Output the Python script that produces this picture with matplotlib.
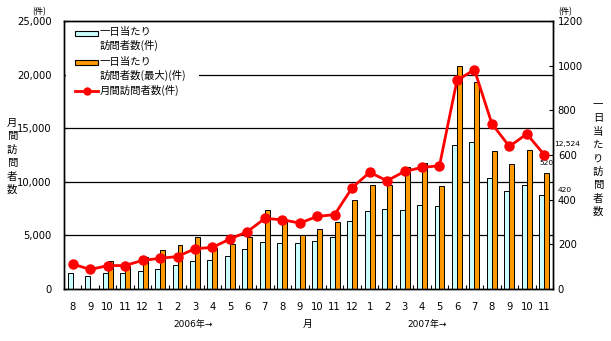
import matplotlib
matplotlib.use("Agg")
import matplotlib.pyplot as plt
import numpy as np
from matplotlib.patches import Rectangle
from matplotlib.lines import Line2D
from matplotlib.ticker import FuncFormatter, FixedLocator

plt.rcParams['font.family'] = ['DejaVu Sans', 'Noto Sans CJK JP']
CJK = ['Noto Sans CJK JP', 'DejaVu Sans']

# 2005/8 – 2007/11
months = ["8", "9", "10", "11", "12", "1", "2", "3", "4", "5", "6", "7",
          "8", "9", "10", "11", "12", "1", "2", "3", "4", "5", "6", "7",
          "8", "9", "10", "11"]

# 一日当たり訪問者数(件)
daily_avg = [72, 60, 70, 72, 82, 90, 107, 125, 130, 150, 177, 212,
             208, 204, 217, 232, 303, 351, 360, 354, 377, 371, 647, 658,
             497, 441, 464, 420]

# 一日当たり訪問者数(最大)(件)  (no record for the first two months)
daily_max = [np.nan, np.nan, 125, 104, 143, 175, 197, 233, 185, 203, 233, 354,
             298, 242, 270, 300, 398, 466, 466, 545, 564, 461, 1000, 928,
             619, 561, 624, 520]

# 月間訪問者数(件)
monthly = [2330, 1820, 2180, 2190, 2670, 2860, 3030, 3760, 3880, 4660, 5350, 6580,
           6460, 6150, 6770, 6940, 9450, 10880, 10100, 10970, 11340, 11500, 19450, 20460,
           15420, 13300, 14460, 12524]

left_ticks = [0, 5000, 10000, 15000, 20000, 25000]
right_ticks = [0, 200, 400, 600, 800, 1000, 1200]

C_CYAN = "#CCFFFF"
C_ORANGE = "#FF9900"
C_RED = "#FF0000"
FS = 7.5
FS_NUM = 7.2

W, H = 611, 341
fig = plt.figure(figsize=(W / 100, H / 100), dpi=100)


def fx(px):
    return px / W


def fy(py):
    return 1 - py / H


L, R, T, B = 64, 553, 21, 289
ax = fig.add_axes([fx(L), fy(B), (R - L) / W, (B - T) / H])   # bars, right scale
ax2 = ax.twinx()                                              # line, left scale

x = np.arange(len(months))
bw = 0.285

# horizontal grid lines follow the left (monthly) scale
ratio = right_ticks[-1] / left_ticks[-1]
for v in left_ticks[1:-1]:
    ax.axhline(v * ratio, color="black", lw=0.9, zorder=0.5)

ax.bar(x - bw / 2, daily_avg, bw, color=C_CYAN, edgecolor="black", linewidth=0.7, zorder=2)
dm = np.array(daily_max, dtype=float)
ok = ~np.isnan(dm)
ax.bar(x[ok] + bw / 2, dm[ok], bw, color=C_ORANGE, edgecolor="black", linewidth=0.7, zorder=2)

ax2.plot(x, monthly, color=C_RED, lw=2, marker="o", ms=6.5, mec=C_RED, mfc=C_RED, zorder=3)

ax.set_xlim(-0.5, len(months) - 0.5)
ax.set_ylim(0, right_ticks[-1])
ax2.set_ylim(0, left_ticks[-1])

# right scale for bars
ax.yaxis.tick_right()
ax.set_yticks(right_ticks)
ax.set_yticklabels([str(v) for v in right_ticks])
ax.tick_params(axis="y", direction="in", length=3, labelsize=FS_NUM, pad=3.5)

# left scale for the line
ax2.yaxis.tick_left()
ax2.set_yticks(left_ticks)
ax2.yaxis.set_major_formatter(FuncFormatter(lambda v, p: f"{int(v):,}"))
ax2.tick_params(axis="y", direction="in", length=3, labelsize=FS_NUM, pad=9)

# category axis
ax.set_xticks(x)
ax.set_xticklabels(months)
ax.tick_params(axis="x", length=0, labelsize=FS_NUM, pad=9)
ax.xaxis.set_minor_locator(FixedLocator(np.arange(0.5, len(months) - 1, 1.0)))
ax.tick_params(axis="x", which="minor", direction="in", length=3, width=0.8)

for a in (ax, ax2):
    for s in a.spines.values():
        s.set_linewidth(1.0)
        s.set_color("black")

# value labels for the latest month
ax2.annotate(f"{monthly[-1]:,}", (x[-1], monthly[-1]), xytext=(16.5, 8),
             textcoords="offset points", ha="center", va="center", fontsize=5.4,
             annotation_clip=False)
ax.annotate(f"{int(daily_max[-1])}", (x[-1] + bw / 2, daily_max[-1]), xytext=(0, 7.2),
            textcoords="offset points", ha="center", va="center", fontsize=5.4,
            annotation_clip=False, zorder=6)
ax.annotate(f"{daily_avg[-1]}", (x[-1] - bw / 2, daily_avg[-1]), xytext=(16.5, 3.6),
            textcoords="offset points", ha="center", va="center", fontsize=5.4,
            annotation_clip=False)

# legend (handle aligned with the first line of each label)
ft = fig.transFigure
ax2.add_patch(Rectangle((fx(66), fy(98)), fx(199) - fx(66), fy(24) - fy(98),
                        transform=ft, fc="white", ec="none", zorder=5, clip_on=False))
ax2.add_patch(Rectangle((fx(75), fy(35.5)), fx(98) - fx(75), fy(31) - fy(35.5),
                        transform=ft, fc=C_CYAN, ec="black", lw=0.8, zorder=6, clip_on=False))
ax2.add_patch(Rectangle((fx(75), fy(64.5)), fx(98) - fx(75), fy(60) - fy(64.5),
                        transform=ft, fc=C_ORANGE, ec="black", lw=0.8, zorder=6, clip_on=False))
ax2.add_line(Line2D([fx(75), fx(98)], [fy(90.5), fy(90.5)], transform=ft, color=C_RED,
                    lw=2, zorder=6, clip_on=False))
ax2.add_line(Line2D([fx(86.5)], [fy(90.5)], transform=ft, color=C_RED, marker="o", ms=5,
                    zorder=6, clip_on=False))
legend_text = [("一日当たり", 32), ("訪問者数(件)", 45),
               ("一日当たり", 62), ("訪問者数(最大)(件)", 75),
               ("月間訪問者数(件)", 90)]
for s, yy in legend_text:
    fig.text(fx(100), fy(yy), s, ha="left", va="center", fontsize=FS, family=CJK, zorder=7)

# unit marks
fig.text(fx(39), fy(12), "(件)", ha="center", va="center", fontsize=6, family=CJK)
fig.text(fx(565), fy(12), "(件)", ha="center", va="center", fontsize=6, family=CJK)

# vertical axis titles, one character per line
for i, ch in enumerate("月間訪問者数"):
    fig.text(fx(12), fy(123 + i * 13.4), ch, ha="center", va="center", fontsize=FS, family=CJK)
for i, ch in enumerate("一日当たり訪問者数"):
    fig.text(fx(598), fy(105 + i * 13.4), ch, ha="center", va="center", fontsize=FS, family=CJK)

# year / month captions under the category axis
fig.text(fx(193), fy(324), "2006年→", ha="center", va="center", fontsize=6.5)
fig.text(fx(308), fy(324), "月", ha="center", va="center", fontsize=7, family=CJK)
fig.text(fx(427), fy(324), "2007年→", ha="center", va="center", fontsize=6.5)

fig.savefig("out.png", dpi=100)
